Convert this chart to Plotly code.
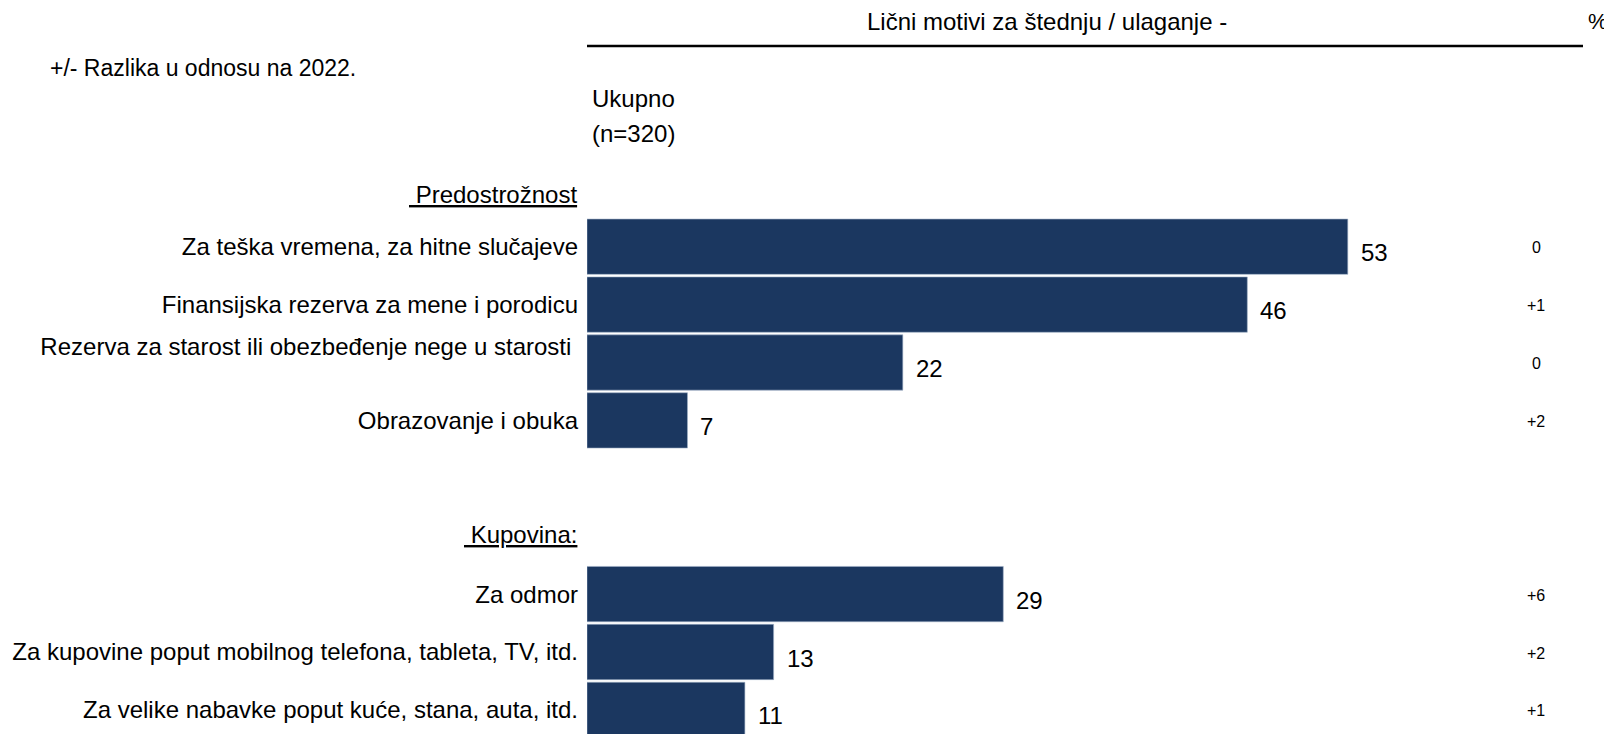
import plotly.graph_objects as go

_BAR_COLOR = "#1B3760"
_FONT = "Arial, Liberation Sans, sans-serif"

group_titles = ["Predostrožnost", "Kupovina:"]

pred_labels = [
    "Za teška vremena, za hitne slučajeve",
    "Finansijska rezerva za mene i porodicu",
    "Rezerva za starost ili obezbeđenje nege u starosti\u00a0<br>\u00a0",
    "Obrazovanje i obuka",
]
pred_values = [53, 46, 22, 7]
pred_diff = ["0", "+1", "0", "+2"]

kup_labels = [
    "Za odmor",
    "Za kupovine poput mobilnog telefona, tableta, TV, itd.",
    "Za velike nabavke poput kuće, stana, auta, itd.",
]
kup_values = [29, 13, 11]
kup_diff = ["+6", "+2", "+1"]

title_text = "Lični motivi za štednju / ulaganje -"
note_text = "+/- Razlika u odnosu na 2022."
base_text = ["Ukupno", "(n=320)"]

# rows: header, items, blank, header, items
groups = [
    (group_titles[0], pred_labels, pred_values, pred_diff),
    (group_titles[1], kup_labels, kup_values, kup_diff),
]
header_rows = []
tickvals, ticktext = [], []
bar_y, bar_x, diff_t = [], [], []
row = 0
for title, labels, values, diffs in groups:
    header_rows.append((row, title))
    row += 1
    for lab, val, d in zip(labels, values, diffs):
        tickvals.append(row)
        ticktext.append(lab)
        bar_y.append(row)
        bar_x.append(val)
        diff_t.append(d)
        row += 1
    row += 1  # blank row between groups

# page is offset by the body margin, so work in page pixels and convert
OFF = 8
W, H = 1612 - OFF, 734 - OFF
L, R = 587 - OFF, 13
XMAX = 70.5
ROW0, PITCH = 188.8 - OFF, 57.9
PW = W - L - R


def py(pix):
    return 1 - (pix - OFF) / H


def px(pix):
    return (pix - OFF - L) / PW


fig = go.Figure(
    go.Bar(
        x=bar_x,
        y=bar_y,
        orientation="h",
        width=0.955,
        marker=dict(color=_BAR_COLOR, line=dict(color="#9FB0C6", width=0.6)),
        hoverinfo="skip",
    )
)

for y, v in zip(bar_y, bar_x):
    fig.add_annotation(
        x=v, y=y, xref="x", yref="y", text=str(v), showarrow=False,
        xanchor="left", yanchor="middle", xshift=11, yshift=-6,
        font=dict(size=24, color="black", family=_FONT),
    )

for y, d in zip(bar_y, diff_t):
    fig.add_annotation(
        x=px(1536), y=y, xref="paper", yref="y", text=d, showarrow=False,
        xanchor="center", yanchor="middle", yshift=-1,
        font=dict(size=16, color="black", family=_FONT),
    )

for (r, title), ys in zip(header_rows, [-6, 2]):
    fig.add_annotation(
        x=0, y=r, xref="paper", yref="y", text=f"<u>\u00a0{title}</u>",
        showarrow=False, xanchor="right", yanchor="middle",
        xshift=-8, yshift=ys,
        font=dict(size=24, color="black", family=_FONT),
    )

fig.add_annotation(
    x=px(1047), y=py(21), xref="paper", yref="paper", text=title_text,
    showarrow=False, xanchor="center", yanchor="middle",
    font=dict(size=24, color="black", family=_FONT),
)
fig.add_annotation(
    x=px(1598), y=py(21), xref="paper", yref="paper", text="%",
    showarrow=False, xanchor="center", yanchor="middle",
    font=dict(size=22, color="black", family=_FONT),
)
fig.add_annotation(
    x=px(48), y=py(68), xref="paper", yref="paper", text=note_text,
    showarrow=False, xanchor="left", yanchor="middle",
    font=dict(size=23, color="black", family=_FONT),
)
for txt, ypix in zip(base_text, [99, 134]):
    fig.add_annotation(
        x=px(590), y=py(ypix), xref="paper", yref="paper", text=txt,
        showarrow=False, xanchor="left", yanchor="middle",
        font=dict(size=24, color="black", family=_FONT),
    )

fig.add_shape(
    type="line", xref="paper", yref="paper",
    x0=0, x1=px(1583), y0=py(46), y1=py(46),
    line=dict(color="black", width=2.5),
)

fig.update_layout(
    width=W,
    height=H,
    margin=dict(l=L, r=R, t=0, b=0),
    paper_bgcolor="white",
    plot_bgcolor="white",
    showlegend=False,
    font=dict(family=_FONT, color="black"),
    xaxis=dict(range=[0, XMAX], visible=False, fixedrange=True),
    yaxis=dict(
        range=[(H - ROW0) / PITCH, -ROW0 / PITCH],
        tickvals=tickvals,
        ticktext=ticktext,
        tickfont=dict(size=24, color="black", family=_FONT),
        showgrid=False,
        zeroline=False,
        showline=False,
        ticks="",
        ticklabelstandoff=8,
        fixedrange=True,
        automargin=False,
    ),
)

fig.write_html("out.html")
